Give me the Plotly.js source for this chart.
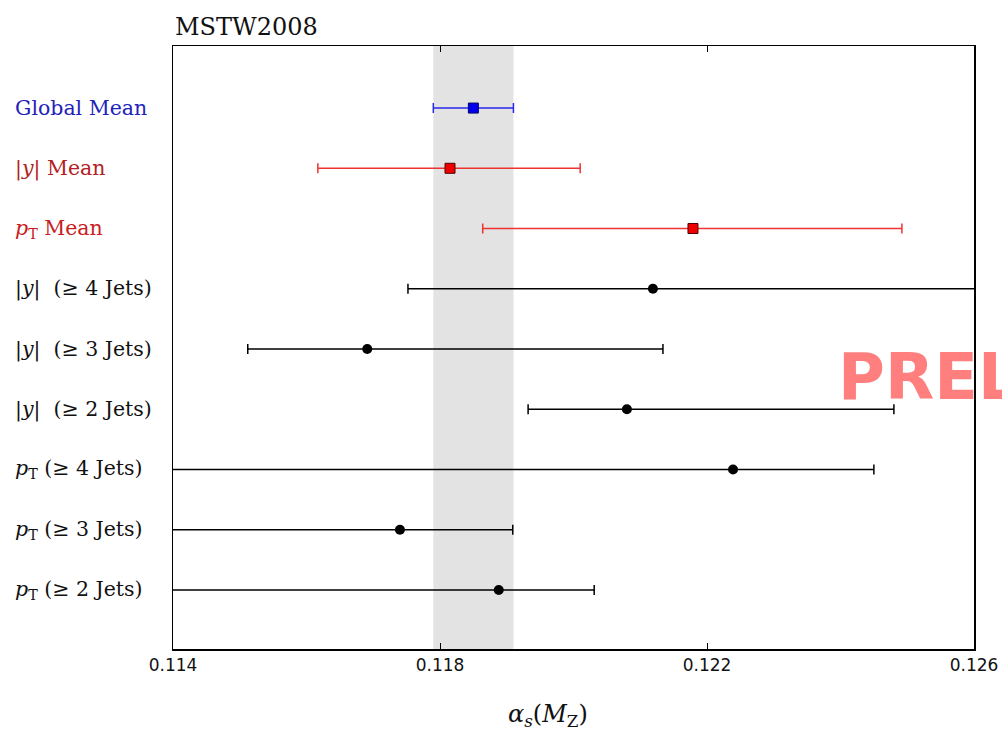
<!DOCTYPE html>
<html>
<head>
<meta charset="utf-8">
<script src="https://cdn.plot.ly/plotly-3.0.1.min.js"></script>
<style>html,body{margin:0;padding:0;background:#fff;}#chart{width:1002px;height:733px;}</style>
</head>
<body>
<div id="chart"></div>
<script>
// Rows, top to bottom
const rowLabels = [
  "Global Mean",
  "|<i>y</i>| Mean",
  "<i>p</i><sub>T</sub> Mean",
  "|<i>y</i>|  (≥ 4 Jets)",
  "|<i>y</i>|  (≥ 3 Jets)",
  "|<i>y</i>|  (≥ 2 Jets)",
  "<i>p</i><sub>T</sub> (≥ 4 Jets)",
  "<i>p</i><sub>T</sub> (≥ 3 Jets)",
  "<i>p</i><sub>T</sub> (≥ 2 Jets)"
];
const rowColors = ["#2222bb", "#b22222", "#c82020", "#111", "#111", "#111", "#111", "#111", "#111"];
const centralValues = [0.1185, 0.11815, 0.12179, 0.12119, 0.11691, 0.1208, 0.12239, 0.11740, 0.11888];
const lowerValues   = [0.1179, 0.11617, 0.11864, 0.11752, 0.11512, 0.11932, 0.1125, 0.1128, 0.1126];
const upperValues   = [0.1191, 0.12010, 0.12492, 0.1266, 0.12134, 0.12480, 0.12450, 0.11909, 0.12031];
const xTicks = [0.114, 0.118, 0.122, 0.126];
const xTickText = ["0.114", "0.118", "0.122", "0.126"];

const n = rowLabels.length;
const yPos = rowLabels.map((_, i) => n - i);

function sub(idx) {
  return {
    x: idx.map(i => centralValues[i]),
    y: idx.map(i => yPos[i]),
    plus: idx.map(i => upperValues[i] - centralValues[i]),
    minus: idx.map(i => centralValues[i] - lowerValues[i])
  };
}
const g = sub([0]);
const m = sub([1, 2]);
const j = sub([3, 4, 5, 6, 7, 8]);

const traces = [
  {x: g.x, y: g.y, type: 'scatter', mode: 'markers', cliponaxis: true,
   marker: {symbol: 'square', size: 10, color: '#0000ee', line: {color: '#000066', width: 1}},
   error_x: {type: 'data', symmetric: false, array: g.plus, arrayminus: g.minus, color: '#2a2aee', thickness: 1.5, width: 5}},
  {x: m.x, y: m.y, type: 'scatter', mode: 'markers', cliponaxis: true,
   marker: {symbol: 'square', size: 10, color: '#ee0000', line: {color: '#550000', width: 1}},
   error_x: {type: 'data', symmetric: false, array: m.plus, arrayminus: m.minus, color: '#ee3333', thickness: 1.5, width: 5}},
  {x: j.x, y: j.y, type: 'scatter', mode: 'markers', cliponaxis: true,
   marker: {symbol: 'circle', size: 10, color: '#000'},
   error_x: {type: 'data', symmetric: false, array: j.plus, arrayminus: j.minus, color: '#000', thickness: 1.5, width: 5}}
];

const annotations = rowLabels.map((t, i) => ({
  text: t, xref: 'paper', yref: 'y', x: (13 - 173) / 801, y: yPos[i],
  xanchor: 'left', yanchor: 'middle', showarrow: false,
  font: {family: 'DejaVu Serif, serif', size: 20.5, color: rowColors[i]}
}));
annotations.push({
  text: 'MSTW2008', xref: 'paper', yref: 'paper', x: (173 - 173) / 801, y: 1, xanchor: 'left', yanchor: 'bottom',
  yshift: 3, showarrow: false, font: {family: 'DejaVu Serif, serif', size: 24, color: '#111'}
});
annotations.push({
  text: '<i>α</i><sub><i>s</i></sub>(<i>M</i><sub>Z</sub>)', xref: 'paper', yref: 'paper',
  x: (548 - 173) / 801, y: 0, xanchor: 'center', yanchor: 'middle', yshift: -66,
  showarrow: false, font: {family: 'DejaVu Serif, serif', size: 24, color: '#111'}
});
annotations.push({
  text: '<b>PRELIMINARY</b>', xref: 'paper', yref: 'paper', x: (836 - 173) / 801, y: (649 - 377) / 603,
  xanchor: 'left', yanchor: 'middle', showarrow: false,
  font: {family: 'DejaVu Sans, sans-serif', size: 64, color: '#ff7f7f'}
});

const layout = {
  width: 1002, height: 733,
  margin: {l: 173, r: 28, t: 46, b: 84},
  paper_bgcolor: '#fff', plot_bgcolor: '#fff',
  showlegend: false,
  xaxis: {
    range: [0.114, 0.126], tickvals: xTicks, ticktext: xTickText,
    ticks: 'inside', ticklen: 6, tickwidth: 1, tickcolor: '#000',
    showline: true, linecolor: '#000', linewidth: 1.5, mirror: 'ticks',
    showgrid: false, zeroline: false,
    tickfont: {family: 'DejaVu Sans, sans-serif', size: 17, color: '#111'}
  },
  yaxis: {
    range: [0.02, n + 1.03], showticklabels: false, ticks: '',
    showline: true, linecolor: '#000', linewidth: 1.5, mirror: true,
    showgrid: false, zeroline: false
  },
  shapes: [{
    type: 'rect', xref: 'x', yref: 'paper', x0: lowerValues[0], x1: upperValues[0], y0: 0, y1: 1,
    fillcolor: '#e3e3e3', line: {width: 0}, layer: 'below'
  }],
  annotations: annotations
};

Plotly.newPlot('chart', traces, layout, {displayModeBar: false, staticPlot: true});
</script>
</body>
</html>
